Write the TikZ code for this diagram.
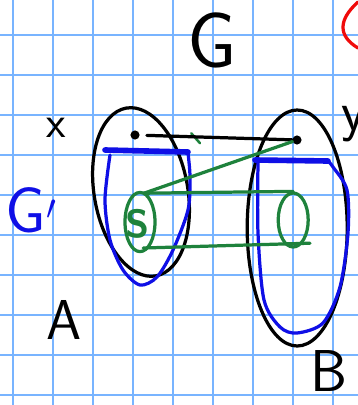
\documentclass[tikz,border=0pt]{standalone}
\usetikzlibrary{shapes.geometric}
\definecolor{gridblue}{RGB}{120,180,255}
\definecolor{penblue}{RGB}{15,15,230}
\definecolor{pengreen}{RGB}{30,130,60}
\definecolor{penred}{RGB}{240,10,10}
\begin{document}
\begin{tikzpicture}[x=1cm, y=-1cm, line cap=round, line join=round,
    every node/.style={font=\sffamily},
    pen/.style={line width=2.3pt},
    dot/.style={circle, fill, inner sep=0pt, minimum size=6.5pt}]
    \useasboundingbox (0,0) rectangle (8.95,10.125);
    \fill[white] (0,0) rectangle (8.95,10.125);

    % grid paper
    \foreach \i in {0,...,8}
        \draw[gridblue, line width=1.3pt] (0.325+\i,0) -- (0.325+\i,10.125);
    \foreach \j in {0,...,9}
        \draw[gridblue, line width=1.3pt] (0,0.88+\j) -- (8.95,0.88+\j);

    % labels
    \node (lblG) at (5.3,1.0) {\fontsize{56}{56}\selectfont G};
    \node (lblx) at (1.4,3.2) {\fontsize{32}{32}\selectfont x};
    \node (lbly) at (8.85,3.1) {\fontsize{40}{40}\selectfont y};
    \node[penblue] (lblGp) at (0.78,5.25) {\fontsize{46}{46}\selectfont G$'$};
    \node (lblA) at (1.6,8.0) {\fontsize{40}{40}\selectfont A};
    \node[inner sep=0pt] (lblB) at (8.22,9.28) {\fontsize{42}{42}\selectfont B};
    \draw[penred, pen] (8.95,0.05) .. controls (8.45,0.5) and (8.45,0.9) .. (8.95,1.2);

    % the two sets
    \draw[pen, rotate around={10:(3.525,4.8)}] (3.525,4.8) ellipse (1.17 and 2.13);
    \draw[pen] (7.43,5.7) ellipse (1.25 and 2.95);

    % blue part G'
    \draw[penblue, pen] plot[smooth] coordinates {(2.75,3.875) (2.625,5.0) (2.75,6.0)
        (3.075,6.75) (3.5,7.125) (3.925,6.925) (4.325,6.25) (4.7,5.25) (4.75,4.425) (4.7,3.825)};
    \draw[penblue, line width=4pt] (2.625,3.75) -- (4.7,3.8);
    \draw[penblue, pen] plot[smooth] coordinates {(6.45,4.075) (6.45,5.825) (6.6,7.5)
        (7.0,8.175) (7.425,8.325) (8.075,8.075) (8.5,7.175) (8.7,5.825) (8.675,4.75) (8.325,4.175) (8.2,4.025)};
    \draw[penblue, line width=4pt] (6.375,4.0) -- (8.2,4.025);

    % green cylinder
    \node[draw, ellipse, pengreen, pen, minimum width=0.75cm, minimum height=1.48cm] (capS) at (3.5,5.55) {};
    \node[draw, ellipse, pengreen, pen, minimum width=0.75cm, minimum height=1.35cm] (capT) at (7.33,5.5) {};
    \node[text=pengreen, font=\sffamily\bfseries\fontsize{28}{28}\selectfont] (lblS) at (3.45,5.6) {S};
    \coordinate (sTop) at (3.6,4.83);
    \coordinate (sBot) at (3.58,6.2);
    \coordinate (tBot) at (7.75,6.08);
    \draw[pengreen, pen] (sTop) -- (capT.north);
    \draw[pengreen, pen] (sBot) -- (tBot);
    \draw[pengreen, line width=1.8pt] (4.78,3.33) -- (5.0,3.58);

    % the points x and y
    \node[dot] (xdot) at (3.375,3.375) {};
    \node[dot] (ydot) at (7.425,3.5) {};
    \draw[pen, shorten <=5pt] (xdot) -- (ydot);
    \draw[pengreen, pen] (sTop) -- (ydot);
\end{tikzpicture}
\end{document}
